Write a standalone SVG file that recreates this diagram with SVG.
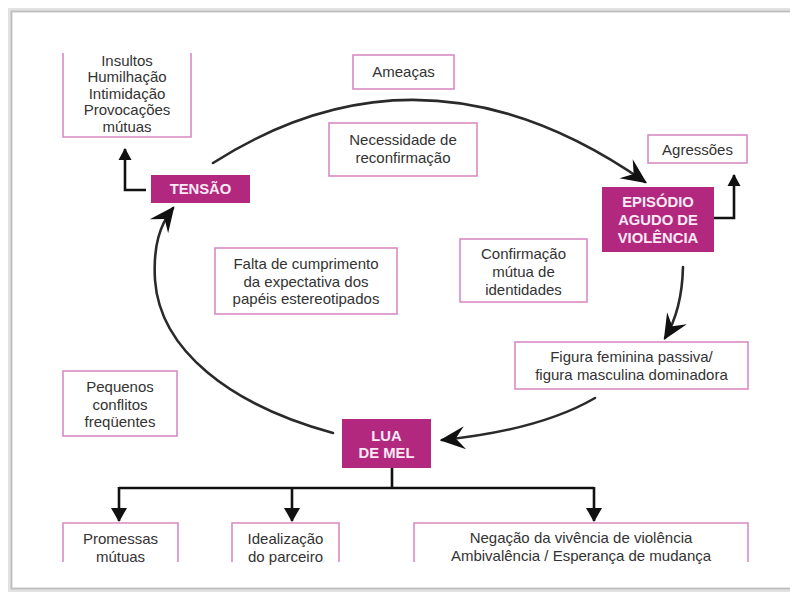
<svg xmlns="http://www.w3.org/2000/svg" width="790" height="594" viewBox="0 0 790 594">
<style>
.box{fill:#fff;stroke:#d98bc2;stroke-width:1.6}
.open{fill:none;stroke:#d98bc2;stroke-width:1.6}
.mag{fill:#b2287f}
.t{font-family:"Liberation Sans",Arial,sans-serif;font-size:15px;fill:#333;text-anchor:middle}
.w{font-family:"Liberation Sans",Arial,sans-serif;font-size:14.8px;font-weight:bold;fill:#fbeaf4;text-anchor:middle}
.arc{fill:none;stroke:#2a2a2a;stroke-width:2.6;stroke-linecap:round}
.ortho{fill:none;stroke:#111;stroke-width:2.6}
</style>
<defs>
<marker id="barb" markerUnits="userSpaceOnUse" markerWidth="30" markerHeight="30" refX="0" refY="0" viewBox="-22 -12 26 24" orient="auto">
<path d="M2,0 L-20,-10 L-12,0 L-20,10 Z" fill="#111"/>
</marker>
<marker id="tri" markerUnits="userSpaceOnUse" markerWidth="16" markerHeight="16" refX="0" refY="0" viewBox="-12 -8 14 16" orient="auto">
<path d="M1,0 L-11,-6.5 L-11,6.5 Z" fill="#111"/>
</marker>
<marker id="tri2" markerUnits="userSpaceOnUse" markerWidth="20" markerHeight="20" refX="0" refY="0" viewBox="-15 -10 17 20" orient="auto">
<path d="M1,0 L-13,-8 L-13,8 Z" fill="#111"/>
</marker>
</defs>
<rect width="790" height="594" fill="#fff"/>
<g id="frame">
<rect x="10" y="10" width="800" height="580" fill="none" stroke="#e2e2e2" stroke-width="4"/>
<rect x="11.5" y="11.5" width="800" height="577" fill="none" stroke="#bdbdbd" stroke-width="1.8"/>
</g>
<g id="connectors">
<path class="arc" d="M213,163 Q425,28 645,182" marker-end="url(#barb)"/>
<path class="arc" d="M683,267 Q682,310 665,338" marker-end="url(#barb)"/>
<path class="arc" d="M595,398 Q540,430 442,440" marker-end="url(#barb)"/>
<path class="arc" d="M333,433 C230,405 160,350 155,280 C153,245 160,225 173,208" marker-end="url(#barb)"/>
<path class="ortho" d="M146,190 H125 V149" marker-end="url(#tri)"/>
<path class="ortho" d="M714,218 H734 V175" marker-end="url(#tri)"/>
<path class="ortho" d="M392,468 V488 M119,488 H594"/>
<path class="ortho" d="M119,487 V521" marker-end="url(#tri2)"/>
<path class="ortho" d="M292,487 V521" marker-end="url(#tri2)"/>
<path class="ortho" d="M594,487 V521" marker-end="url(#tri2)"/>
</g>
<g id="insultos">
<path class="open" d="M63,53 V137 H191 V53"/>
<text class="t" x="127" y="66">Insultos</text>
<text class="t" x="127" y="82">Humilhação</text>
<text class="t" x="127" y="99">Intimidação</text>
<text class="t" x="127" y="115">Provocações</text>
<text class="t" x="127" y="132">mútuas</text>
</g>
<g id="tensao">
<rect class="mag" x="151" y="175" width="99" height="28"/>
<text class="w" x="200.5" y="194">TENSÃO</text>
</g>
<g id="ameacas">
<rect class="box" x="353" y="55" width="101" height="34"/>
<text class="t" x="403.5" y="77">Ameaças</text>
</g>
<g id="necessidade">
<rect class="box" x="329" y="123" width="148" height="53"/>
<text class="t" x="403" y="145">Necessidade de</text>
<text class="t" x="403" y="163">reconfirmação</text>
</g>
<g id="agressoes">
<rect class="box" x="648" y="135" width="99" height="28"/>
<text class="t" x="697.5" y="155">Agressões</text>
</g>
<g id="episodio">
<rect class="mag" x="602" y="187" width="112" height="65"/>
<text class="w" x="658" y="207">EPISÓDIO</text>
<text class="w" x="658" y="225">AGUDO DE</text>
<text class="w" x="658" y="243">VIOLÊNCIA</text>
</g>
<g id="falta">
<rect class="box" x="215" y="248" width="182" height="66"/>
<text class="t" x="306" y="269">Falta de cumprimento</text>
<text class="t" x="306" y="287">da expectativa dos</text>
<text class="t" x="306" y="304">papéis estereotipados</text>
</g>
<g id="confirmacao">
<rect class="box" x="460" y="239" width="127" height="63"/>
<text class="t" x="523.5" y="259">Confirmação</text>
<text class="t" x="523.5" y="277">mútua de</text>
<text class="t" x="523.5" y="295">identidades</text>
</g>
<g id="figura">
<rect class="box" x="515" y="342" width="233" height="47"/>
<text class="t" x="631.5" y="362">Figura feminina passiva/</text>
<text class="t" x="631.5" y="380">figura masculina dominadora</text>
</g>
<g id="pequenos">
<rect class="box" x="63" y="371" width="114" height="65"/>
<text class="t" x="120" y="392">Pequenos</text>
<text class="t" x="120" y="410">conflitos</text>
<text class="t" x="120" y="427">freqüentes</text>
</g>
<g id="lua">
<rect class="mag" x="342" y="419" width="89" height="49"/>
<text class="w" x="386.5" y="441">LUA</text>
<text class="w" x="386.5" y="458">DE MEL</text>
</g>
<g id="promessas">
<path class="open" d="M63,562 V523 H178 V562"/>
<text class="t" x="120.5" y="544">Promessas</text>
<text class="t" x="120.5" y="562">mútuas</text>
</g>
<g id="idealizacao">
<path class="open" d="M232,562 V523 H339 V562"/>
<text class="t" x="285.5" y="544">Idealização</text>
<text class="t" x="285.5" y="562">do parceiro</text>
</g>
<g id="negacao">
<path class="open" d="M414,562 V523 H748 V562"/>
<text class="t" x="581" y="543">Negação da vivência de violência</text>
<text class="t" x="581" y="561">Ambivalência / Esperança de mudança</text>
</g>
</svg>
